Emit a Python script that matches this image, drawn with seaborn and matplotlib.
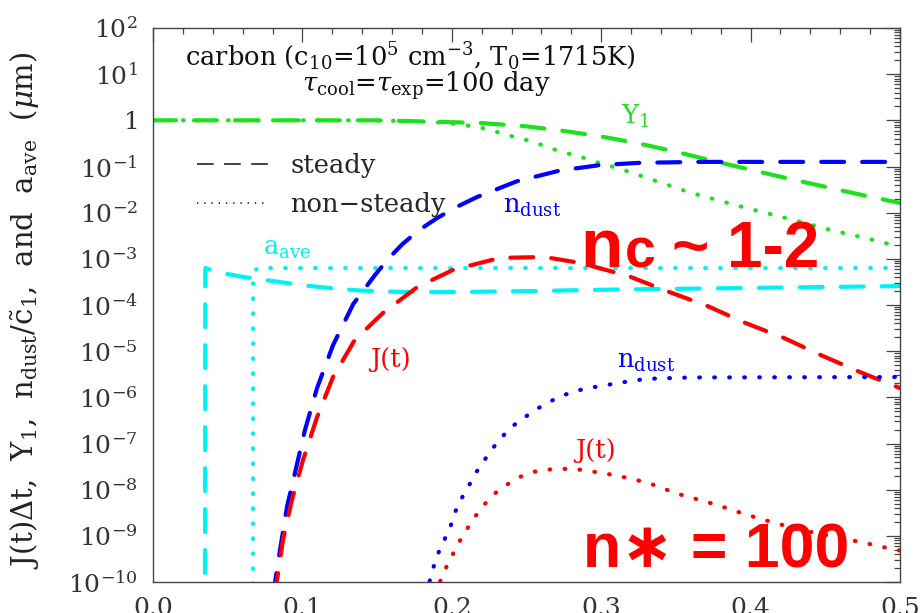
import numpy as np
import matplotlib
matplotlib.use("Agg")
import matplotlib.pyplot as plt
import seaborn as sns
from matplotlib.ticker import FixedLocator, FixedFormatter, MultipleLocator, LogLocator, NullFormatter
from matplotlib.lines import Line2D

# ---- time axis (t) and log10 of each quantity ----
# Y1, steady
t_y1_st = [0.0, 0.15, 0.19, 0.22, 0.25, 0.275, 0.30, 0.325, 0.35, 0.375, 0.40, 0.425, 0.45, 0.475, 0.50]
lg_y1_st = [0.0, 0.0, -0.03, -0.06, -0.13, -0.23, -0.35, -0.50, -0.68, -0.88, -1.07, -1.26, -1.44, -1.62, -1.79]
# Y1, non-steady
t_y1_ns = [0.0, 0.15, 0.185, 0.20, 0.217, 0.228, 0.237, 0.246, 0.255, 0.264, 0.274, 0.284, 0.293, 0.301,
           0.311, 0.319, 0.331, 0.358, 0.378, 0.395, 0.424, 0.453, 0.482, 0.50]
lg_y1_ns = [0.0, 0.0, -0.03, -0.07, -0.14, -0.23, -0.32, -0.39, -0.47, -0.58, -0.69, -0.77, -0.86, -0.95,
            -1.03, -1.12, -1.25, -1.55, -1.73, -1.88, -2.12, -2.37, -2.59, -2.74]
# n_dust, steady
t_nd_st = [0.0802, 0.0817, 0.085, 0.0897, 0.095, 0.1017, 0.1098, 0.1205, 0.134, 0.1486, 0.158, 0.167,
           0.178, 0.190, 0.203, 0.217, 0.2436, 0.272, 0.299, 0.326, 0.366, 0.50]
lg_nd_st = [-10.3, -10.0, -9.31, -8.37, -7.64, -6.71, -5.80, -4.87, -3.98, -3.35, -2.98, -2.68,
            -2.38, -2.12, -1.88, -1.66, -1.32, -1.09, -0.97, -0.92, -0.90, -0.90]
# J(t), steady
t_j_st = [0.0815, 0.083, 0.087, 0.093, 0.1004, 0.1098, 0.1205, 0.135, 0.154, 0.177, 0.2008, 0.232, 0.262,
          0.286, 0.318, 0.344, 0.371, 0.395, 0.422, 0.448, 0.473, 0.50]
lg_j_st = [-10.3, -9.96, -9.09, -8.22, -7.36, -6.43, -5.56, -4.76, -4.17, -3.61, -3.24, -2.98, -2.96,
           -3.09, -3.37, -3.70, -4.02, -4.37, -4.71, -5.10, -5.45, -5.80]
# a_ave, steady
t_a_st = [0.0348, 0.0350, 0.045, 0.06, 0.08, 0.10, 0.12, 0.14, 0.17, 0.20, 0.25, 0.30, 0.40, 0.50]
lg_a_st = [-11.0, -3.20, -3.30, -3.39, -3.48, -3.57, -3.64, -3.69, -3.72, -3.72, -3.70, -3.67, -3.63, -3.59]
# a_ave, non-steady
t_a_ns = [0.0669, 0.0670, 0.0695, 0.50]
lg_a_ns = [-11.0, -3.39, -3.20, -3.20]
# n_dust, non-steady
t_nd_ns = [0.1835, 0.185, 0.1875, 0.191, 0.195, 0.199, 0.202, 0.206, 0.211, 0.216, 0.221, 0.227, 0.233,
           0.240, 0.248, 0.256, 0.264, 0.272, 0.281, 0.291, 0.301, 0.311, 0.33, 0.36, 0.50]
lg_nd_ns = [-10.3, -10.0, -9.70, -9.37, -9.09, -8.81, -8.50, -8.22, -7.94, -7.64, -7.40, -7.12, -6.88,
            -6.64, -6.45, -6.27, -6.12, -5.99, -5.88, -5.80, -5.75, -5.69, -5.60, -5.57, -5.56]
# J(t), non-steady
t_j_ns = [0.190, 0.192, 0.196, 0.200, 0.205, 0.2102, 0.2155, 0.221, 0.2276, 0.2356, 0.2436, 0.2537, 0.262,
          0.272, 0.282, 0.2925, 0.301, 0.311, 0.321, 0.331, 0.339, 0.349, 0.359, 0.3775, 0.396, 0.414,
          0.432, 0.45, 0.473, 0.491, 0.50]
lg_j_ns = [-10.3, -10.0, -9.70, -9.44, -9.13, -8.85, -8.59, -8.35, -8.11, -7.92, -7.75, -7.62, -7.57,
           -7.55, -7.55, -7.60, -7.64, -7.70, -7.77, -7.85, -7.94, -8.07, -8.16, -8.33, -8.53, -8.70,
           -8.86, -8.98, -9.13, -9.26, -9.32]

y_exponents = list(range(-10, 3))
x_ticks = [0.0, 0.1, 0.2, 0.3, 0.4, 0.5]

GREEN = "#1ee01e"
BLUE = "#0000ff"
RED = "#ff0000"
CYAN = "#00f2f2"

sns.set_theme(style="white")
plt.rcParams["font.family"] = ["DejaVu Serif"]
plt.rcParams["mathtext.fontset"] = "dejavuserif"
plt.rcParams["lines.scale_dashes"] = False

W, H = 924, 613
fig = plt.figure(figsize=(W / 100, H / 100), dpi=100)
ax = fig.add_axes([153 / W, 1 - 582 / H, 747 / W, 554 / H])

DASH = (0, (16.5, 13))
DOT = (0, (0.5, 10.3))

series = [
    (t_y1_st, lg_y1_st, GREEN, DASH),
    (t_y1_ns, lg_y1_ns, GREEN, DOT),
    (t_a_st, lg_a_st, CYAN, DASH),
    (t_a_ns, lg_a_ns, CYAN, DOT),
    (t_nd_st, lg_nd_st, BLUE, DASH),
    (t_j_st, lg_j_st, RED, DASH),
    (t_nd_ns, lg_nd_ns, BLUE, DOT),
    (t_j_ns, lg_j_ns, RED, DOT),
]
for t, lg, col, ls in series:
    sns.lineplot(x=np.asarray(t), y=np.power(10.0, lg), color=col, linewidth=3.0,
                 linestyle=ls, estimator=None, sort=False, ax=ax,
                 solid_capstyle="round", dash_capstyle="round")

ax.set_yscale("log")
ax.set_xlim(0, 0.5)
ax.set_ylim(1e-10, 1e2)

# axis ticks
ylabels = []
for e in y_exponents:
    if e == 0:
        ylabels.append(r"$1$")
    else:
        ylabels.append(r"$10^{%d}$" % e)
ax.yaxis.set_major_locator(FixedLocator([10.0 ** e for e in y_exponents]))
ax.yaxis.set_major_formatter(FixedFormatter(ylabels))
ax.yaxis.set_minor_locator(LogLocator(base=10, subs=np.arange(2, 10), numticks=100))
ax.yaxis.set_minor_formatter(NullFormatter())
ax.xaxis.set_major_locator(FixedLocator(x_ticks))
ax.xaxis.set_major_formatter(FixedFormatter(["%.1f" % v for v in x_ticks]))
ax.xaxis.set_minor_locator(MultipleLocator(0.02))

TC = "#444444"
ax.tick_params(which="both", direction="in", top=True, right=True, color=TC,
               labelcolor="#333333", width=0.9)
ax.tick_params(which="major", length=10, labelsize=18)
ax.tick_params(which="minor", length=4.5)
ax.tick_params(axis="y", which="major", pad=11)
ax.tick_params(axis="x", which="major", pad=11)
for sp in ax.spines.values():
    sp.set_color(TC)
    sp.set_linewidth(1.0)

ax.set_ylabel(r"J(t)$\Delta$t,  Y$_1$,  n$_{\rm dust}$/$\tilde{\rm c}_1$,  and  a$_{\rm ave}$  ($\mu$m)",
              fontsize=21, color="#222222")
ax.yaxis.set_label_coords(-0.148, 0.491)


def fx(px, py):
    return px / W, 1 - py / H


TXT = 18.5

# header text
fig.text(*fx(185, 65), r"carbon (c$_{10}$=10$^5$ cm$^{-3}$, T$_0$=1715K)", fontsize=TXT,
         ha="left", va="baseline", color="#111111")
fig.text(*fx(302, 92), r"$\tau_{\rm cool}$=$\tau_{\rm exp}$=100 day", fontsize=TXT,
         ha="left", va="baseline", color="#111111")

# line-style key
handles = [Line2D([], [], color="#222222", lw=1.2, linestyle=(0, (12, 7.5))),
           Line2D([], [], color="#222222", lw=1.2, linestyle=(0, (1, 4.2)))]
ax.legend(handles, ["steady", "non\u2212steady"], loc="upper left", frameon=False,
          bbox_to_anchor=fx(197, 153), bbox_transform=fig.transFigure,
          fontsize=TXT, handlelength=2.76, handletextpad=0.86, labelspacing=0.54,
          borderpad=0, borderaxespad=0)

# curve labels
lab = dict(fontsize=TXT, ha="left", va="baseline")
fig.text(*fx(621, 124), r"Y$_1$", color=GREEN, **lab)
fig.text(*fx(503, 213), r"n$_{\rm dust}$", color=BLUE, **lab)
fig.text(*fx(263, 255), r"a$_{\rm ave}$", color=CYAN, **lab)
fig.text(*fx(370, 367), r"J(t)", color=RED, **lab)
fig.text(*fx(617, 368), r"n$_{\rm dust}$", color=BLUE, **lab)
fig.text(*fx(575, 458), r"J(t)", color=RED, **lab)

# big annotations
big = dict(family=["Liberation Sans", "DejaVu Sans"], fontweight="bold", color=RED,
           ha="left", va="baseline")
fig.text(*fx(580, 267), "n", fontsize=50, **big)
fig.text(*fx(625, 267), "c", fontsize=40, **big)
fig.text(*fx(672, 267), "~ 1-2", fontsize=46, **big)
fig.text(*fx(583, 567), "n\u2217 = 100", fontsize=45, **big)

fig.savefig("out.png", dpi=100)
